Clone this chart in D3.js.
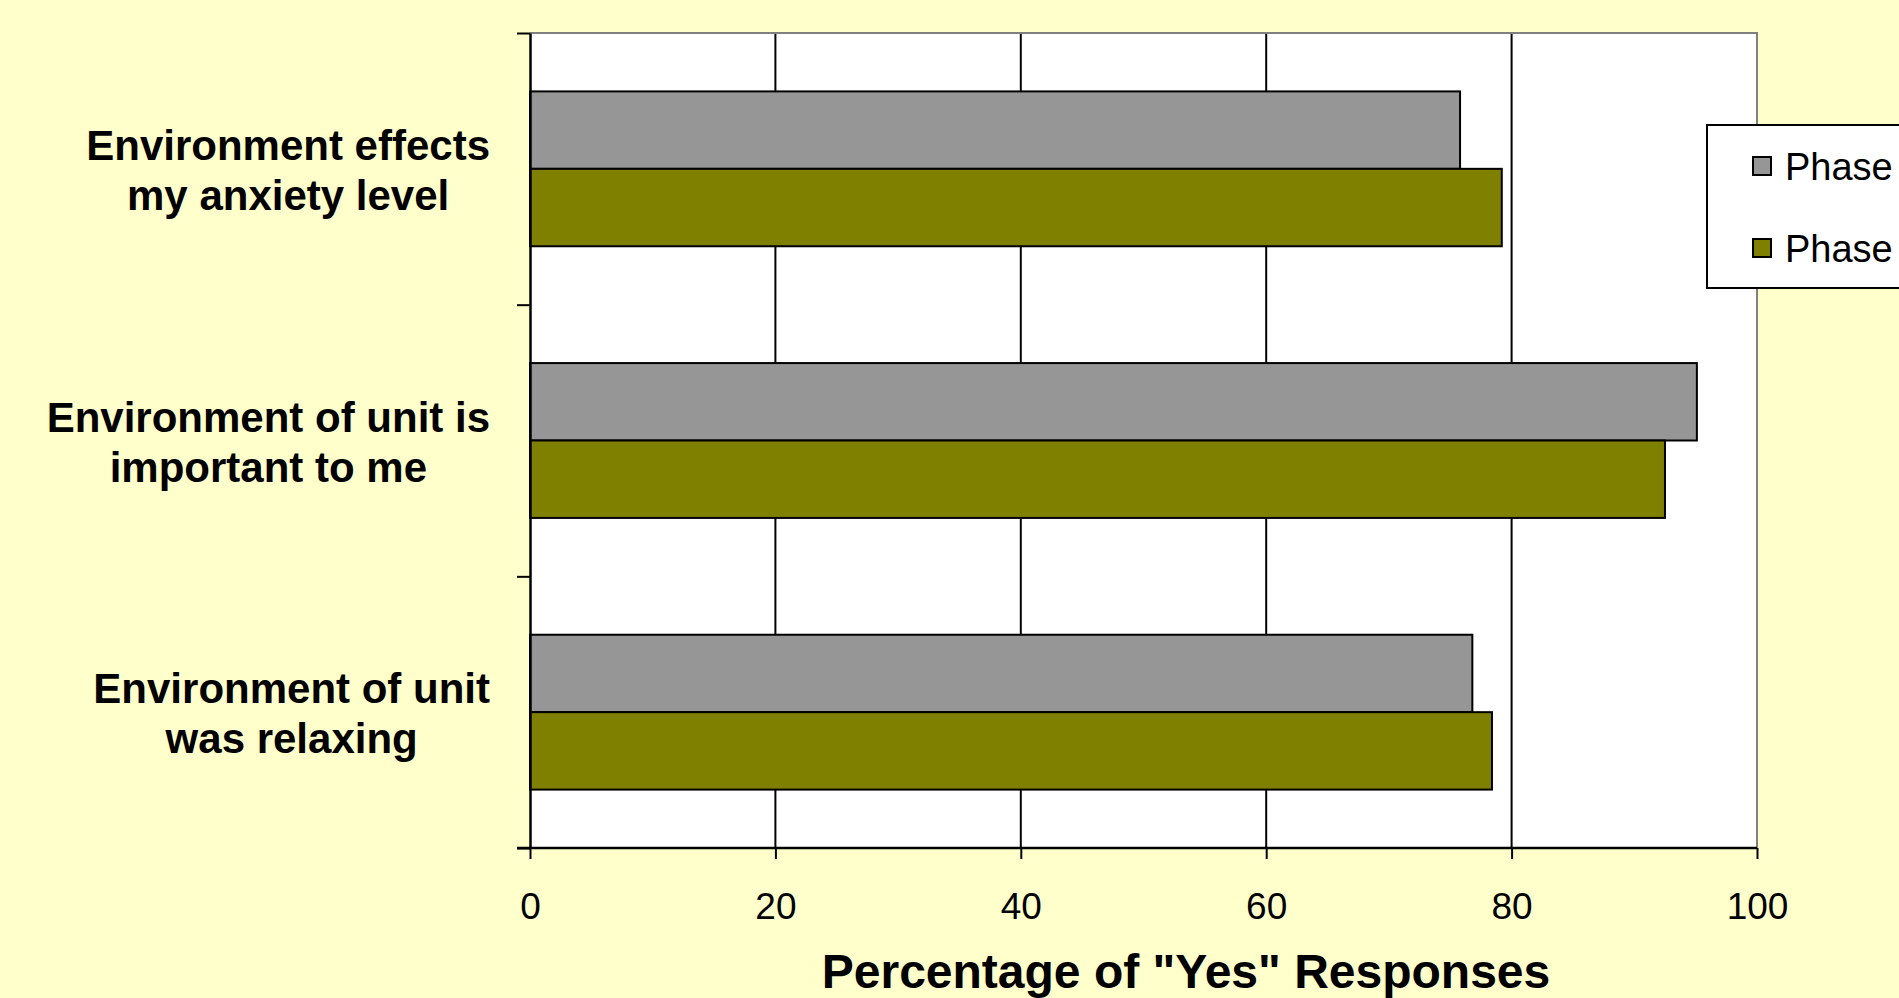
<!DOCTYPE html>
<html>
<head>
<meta charset="utf-8">
<script src="https://cdn.jsdelivr.net/npm/d3@7/dist/d3.min.js"></script>
<style>
  html, body { margin: 0; padding: 0; background: #FFFFCC; overflow: hidden; }
  svg { display: block; }
  text { font-family: "Liberation Sans", Arial, sans-serif; }
</style>
</head>
<body>
<svg id="chart" width="1899" height="998"></svg>
<script>
const categories = [
  ["Environment effects", "my anxiety level"],
  ["Environment of unit is", "important to me"],
  ["Environment of unit", "was relaxing"]
];
const seriesNames = ["Phase 1", "Phase 2"];
const phase1 = [75.8, 95.1, 76.8];
const phase2 = [79.2, 92.5, 78.4];
const xTicks = [0, 20, 40, 60, 80, 100];
const xTitle = 'Percentage of "Yes" Responses';
const colors = ["#969696", "#808000"];

const svg = d3.select("#chart");
const W = 1899, H = 998;
const m = { left: 530, right: 1757, top: 33, bottom: 848 };

svg.append("rect").attr("width", W).attr("height", H).attr("fill", "#FFFFCC");

const x = d3.scaleLinear().domain([0, 100]).range([m.left, m.right]);
const y = d3.scaleBand().domain(d3.range(categories.length))
  .range([m.top, m.bottom]).paddingInner(0.43).paddingOuter(0.215);
const ySub = d3.scaleBand().domain([0, 1]).range([0, y.bandwidth()]);
const yEdge = d3.scaleLinear().domain([0, categories.length]).range([m.top, m.bottom]);

// plot background
svg.append("rect").attr("x", m.left).attr("y", m.top)
  .attr("width", m.right - m.left).attr("height", m.bottom - m.top).attr("fill", "#ffffff");

// gridlines
svg.append("g").selectAll("line").data(xTicks.filter(d => d > 0 && d < 100)).join("line")
  .attr("x1", d => x(d)).attr("x2", d => x(d))
  .attr("y1", m.top).attr("y2", m.bottom)
  .attr("stroke", "#000").attr("stroke-width", 2);

// top & right border (gray)
svg.append("path")
  .attr("d", `M${m.left},${m.top}H${m.right}V${m.bottom}`)
  .attr("fill", "none").attr("stroke", "#808080").attr("stroke-width", 2);

// bars
const data = [];
categories.forEach((c, i) => {
  data.push({ cat: i, s: 0, v: phase1[i] });
  data.push({ cat: i, s: 1, v: phase2[i] });
});
svg.append("g").selectAll("rect").data(data).join("rect")
  .attr("x", x(0))
  .attr("y", d => y(d.cat) + ySub(d.s))
  .attr("width", d => x(d.v) - x(0))
  .attr("height", ySub.bandwidth())
  .attr("fill", d => colors[d.s])
  .attr("stroke", "#000").attr("stroke-width", 2);

// x axis
const xAxis = svg.append("g").attr("transform", `translate(0,${m.bottom})`)
  .call(d3.axisBottom(x).tickValues(xTicks).tickSize(11).tickSizeOuter(0).tickFormat(d3.format("d")));
xAxis.select(".domain").attr("stroke", "#000").attr("stroke-width", 2.5)
  .attr("d", `M${m.left - 13},0H${m.right}`);
xAxis.selectAll(".tick line").attr("stroke", "#000").attr("stroke-width", 2);
xAxis.selectAll(".tick text").attr("y", 71).attr("dy", 0)
  .attr("font-size", 37).attr("fill", "#000")
  .attr("font-family", "'Liberation Sans', Arial, sans-serif");

// y axis (ticks at category boundaries)
const yAxis = svg.append("g").attr("transform", `translate(${m.left},0)`)
  .call(d3.axisLeft(yEdge).tickValues(d3.range(categories.length + 1)).tickSize(13).tickSizeOuter(0).tickFormat(""));
yAxis.select(".domain").attr("stroke", "#000").attr("stroke-width", 2.5);
yAxis.selectAll(".tick line").attr("stroke", "#000").attr("stroke-width", 2);

// category labels
const labelRight = 490;
categories.forEach((lines, i) => {
  const g = svg.append("g");
  const cy = y(i) + y.bandwidth() / 2;
  const lh = 50;
  const texts = g.selectAll("text").data(lines).join("text")
    .attr("font-size", 42).attr("font-weight", "bold").attr("fill", "#000")
    .attr("text-anchor", "middle")
    .attr("y", (d, j) => cy + (j - (lines.length - 1) / 2) * lh + 16)
    .text(d => d);
  let maxW = 0;
  texts.each(function () { maxW = Math.max(maxW, this.getComputedTextLength()); });
  texts.attr("x", labelRight - maxW / 2);
});

// x title
svg.append("text")
  .attr("x", 1186).attr("y", 988)
  .attr("text-anchor", "middle")
  .attr("font-size", 48).attr("font-weight", "bold").attr("fill", "#000")
  .text(xTitle);

// legend
const lg = svg.append("g");
lg.append("rect").attr("x", 1707).attr("y", 125).attr("width", 260).attr("height", 163)
  .attr("fill", "#fff").attr("stroke", "#000").attr("stroke-width", 2);
const legY = d3.scalePoint().domain(seriesNames).range([166, 248]);
const li = lg.selectAll("g.item").data(seriesNames).join("g").attr("class", "item")
  .attr("transform", d => `translate(1753,${legY(d)})`);
li.append("rect").attr("x", 0).attr("y", -9).attr("width", 18).attr("height", 18)
  .attr("fill", (d, i) => colors[i]).attr("stroke", "#000").attr("stroke-width", 2);
li.append("text").attr("x", 32).attr("y", 14)
  .attr("font-size", 38).attr("fill", "#000").text(d => d);
</script>
</body>
</html>
